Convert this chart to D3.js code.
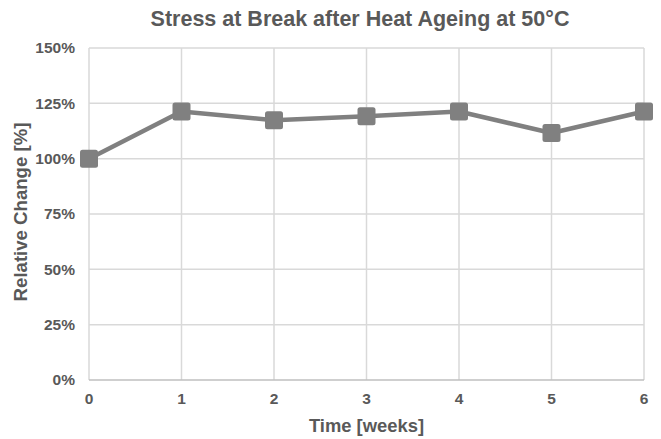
<!DOCTYPE html>
<html>
<head>
<meta charset="utf-8">
<script src="https://cdn.jsdelivr.net/npm/d3@7"></script>
<style>
  body { margin: 0; background: #fff; }
  svg text { font-family: "Liberation Sans", Arial, sans-serif; font-weight: bold; fill: #595959; }
</style>
</head>
<body>
<svg id="chart" width="661" height="439"></svg>
<script>
// data
var weeks = [0, 1, 2, 3, 4, 5, 6];
var relChange = [100, 121.3, 117.4, 119.2, 121.3, 111.6, 121.3];
var yTicks = [0, 25, 50, 75, 100, 125, 150];

var svg = d3.select("#chart");
var margin = {left: 89, right: 17, top: 48, bottom: 59};
var W = 661, H = 439;

var x = d3.scaleLinear().domain([0, 6]).range([margin.left, W - margin.right]);
var y = d3.scaleLinear().domain([0, 150]).range([H - margin.bottom, margin.top]);

// horizontal grid
svg.append("g").selectAll("line")
    .data(yTicks.filter(function (d) { return d > 0; }))
    .enter().append("line")
    .attr("x1", x(0)).attr("x2", x(6))
    .attr("y1", function (d) { return y(d); })
    .attr("y2", function (d) { return y(d); })
    .attr("stroke", "#d9d9d9").attr("stroke-width", 1.5);

// vertical grid
svg.append("g").selectAll("line")
    .data(weeks)
    .enter().append("line")
    .attr("x1", function (d) { return x(d); })
    .attr("x2", function (d) { return x(d); })
    .attr("y1", y(0)).attr("y2", y(150))
    .attr("stroke", "#d9d9d9").attr("stroke-width", 1.5);

// bottom axis line
svg.append("line")
    .attr("x1", x(0)).attr("x2", x(6))
    .attr("y1", y(0)).attr("y2", y(0))
    .attr("stroke", "#bfbfbf").attr("stroke-width", 1.5);

// y tick labels
svg.append("g").selectAll("text")
    .data(yTicks)
    .enter().append("text")
    .attr("x", x(0) - 14)
    .attr("y", function (d) { return y(d); })
    .attr("dy", "0.35em")
    .attr("text-anchor", "end")
    .attr("font-size", "15.5px")
    .text(function (d) { return d + "%"; });

// x tick labels
svg.append("g").selectAll("text")
    .data(weeks)
    .enter().append("text")
    .attr("x", function (d) { return x(d); })
    .attr("y", y(0) + 24)
    .attr("text-anchor", "middle")
    .attr("font-size", "15.5px")
    .text(function (d) { return d; });

var pts = weeks.map(function (w, i) { return [w, relChange[i]]; });

var line = d3.line()
    .x(function (d) { return x(d[0]); })
    .y(function (d) { return y(d[1]); });

svg.append("path")
    .datum(pts)
    .attr("d", line)
    .attr("fill", "none")
    .attr("stroke", "#808080")
    .attr("stroke-width", 4.5)
    .attr("stroke-linejoin", "round");

var ms = 18;
svg.append("g").selectAll("rect")
    .data(pts)
    .enter().append("rect")
    .attr("x", function (d) { return x(d[0]) - ms / 2; })
    .attr("y", function (d) { return y(d[1]) - ms / 2; })
    .attr("width", ms).attr("height", ms)
    .attr("rx", 2.5)
    .attr("fill", "#808080");

// titles
svg.append("text")
    .attr("x", 360).attr("y", 26)
    .attr("text-anchor", "middle")
    .attr("font-size", "21.5px")
    .text("Stress at Break after Heat Ageing at 50°C");

svg.append("text")
    .attr("x", 366.5).attr("y", 432)
    .attr("text-anchor", "middle")
    .attr("font-size", "18.4px")
    .text("Time [weeks]");

svg.append("text")
    .attr("transform", "translate(27,212) rotate(-90)")
    .attr("text-anchor", "middle")
    .attr("font-size", "18.6px")
    .text("Relative Change [%]");
</script>
</body>
</html>
